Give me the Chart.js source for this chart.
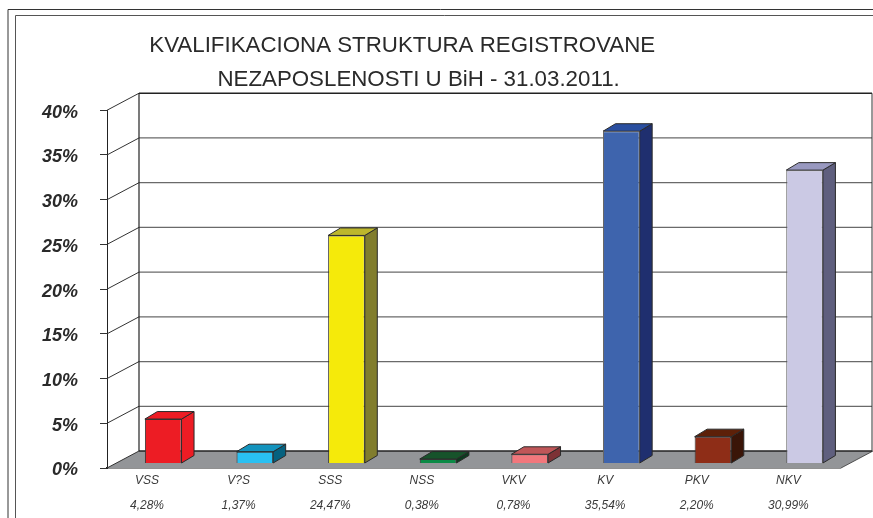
<!DOCTYPE html>
<html><head><meta charset="utf-8">
<style>html,body{margin:0;padding:0;background:#fff}canvas{display:block}</style>
<script src="https://cdn.jsdelivr.net/npm/chart.js@4"></script>
</head><body><canvas id="c" width="873" height="518"></canvas>
<script>
const titleLines = ["KVALIFIKACIONA STRUKTURA REGISTROVANE", "NEZAPOSLENOSTI U BiH - 31.03.2011."];
const categories = ["VSS", "V?S", "SSS", "NSS", "VKV", "KV", "PKV", "NKV"];
const printedShares = ["4,28%", "1,37%", "24,47%", "0,38%", "0,78%", "35,54%", "2,20%", "30,99%"];
const barHeights = [4.97, 1.32, 25.5, 0.5, 1.03, 37.15, 3.0, 32.8];
const frontColors = ["#ed1c24", "#29c0f2", "#f5ea0a", "#0b8a45", "#f2777c", "#3e64ad", "#8e2d17", "#cbc9e4"];
const topColors   = ["#ed1c24", "#1393bd", "#bdb72c", "#17532b", "#c05658", "#2a4fa0", "#5d2008", "#9999c0"];
const sideColors  = ["#ed1c24", "#05617f", "#817d2d", "#0c3a1e", "#7d3236", "#1f2f6f", "#3a1508", "#5f5f7e"];
const edgeColors  = ["#333", "#333", "#333", "#333", "#444", "#666", "#333", "#555"];
const yMax = 40, yStep = 5;

const WALL = {dx: 32, dy: -17}, BAR = {dx: 10.4, dy: -4.5}, DEPTH = {dx: 12.5, dy: -7.5};

function line(ctx, x1, y1, x2, y2, color, w) {
  ctx.strokeStyle = color; ctx.lineWidth = w;
  ctx.beginPath(); ctx.moveTo(x1, y1); ctx.lineTo(x2, y2); ctx.stroke();
}
function poly(ctx, pts, fill, edge) {
  ctx.beginPath(); pts.forEach((p, i) => i ? ctx.lineTo(p[0], p[1]) : ctx.moveTo(p[0], p[1]));
  ctx.closePath(); ctx.fillStyle = fill; ctx.fill();
  if (edge) { ctx.strokeStyle = edge; ctx.lineWidth = 1; ctx.stroke(); }
}

const scene = {
  id: "scene",
  beforeDraw(chart) {
    const {ctx, width, height} = chart;
    ctx.save();
    ctx.fillStyle = "#fff"; ctx.fillRect(0, 0, width, height);
    line(ctx, 8, 9.5, width, 9.5, "#333", 1);
    line(ctx, 8, 9.5, 8, height, "#333", 1);
    line(ctx, 15.5, 15.5, width, 15.5, "#555", 1);
    line(ctx, 15.5, 15.5, 15.5, height, "#555", 1);
    ctx.restore();
  },
  beforeDatasetsDraw(chart) {
    const {ctx, chartArea: a, scales: {y}} = chart;
    const bx = a.left + WALL.dx, rx = a.right + WALL.dx, fy = y.getPixelForValue(0);
    ctx.save();
    poly(ctx, [[a.left, fy], [bx, fy + WALL.dy], [rx + 1, fy + WALL.dy], [a.right + 1, fy]], "#939598");
    line(ctx, a.right + 1, fy, rx + 1, fy + WALL.dy, "#333", 0.8);
    for (let v = 0; v <= yMax; v += yStep) {
      const p = y.getPixelForValue(v);
      const edge = v === 0 || v === yMax;
      line(ctx, a.left, p, bx, p + WALL.dy, "#333", 1);
      line(ctx, bx, p + WALL.dy, rx, p + WALL.dy, edge ? "#222" : "#6a6a6a", edge ? 1.6 : 1.2);
    }
    line(ctx, bx, y.getPixelForValue(yMax) + WALL.dy, bx, fy + WALL.dy, "#222", 1.2);
    line(ctx, rx, y.getPixelForValue(yMax) + WALL.dy, rx, fy + WALL.dy, "#333", 1);
    ctx.restore();
    ctx.save();
    ctx.translate(BAR.dx, BAR.dy);
    const bars = chart.getDatasetMeta(0).data;
    bars.forEach((b, i) => {
      const l = b.x - b.width / 2, r = b.x + b.width / 2, t = b.y, base = b.base;
      const e = "#2a2a2a";
      poly(ctx, [[r, t], [r + DEPTH.dx, t + DEPTH.dy], [r + DEPTH.dx, base + DEPTH.dy], [r, base]], sideColors[i], e);
      poly(ctx, [[l, t], [l + DEPTH.dx, t + DEPTH.dy], [r + DEPTH.dx, t + DEPTH.dy], [r, t]], topColors[i], e);
    });
  },
  afterDatasetsDraw(chart) { chart.ctx.restore(); }
};

new Chart(document.getElementById("c"), {
  type: "bar",
  data: {
    labels: categories.map((c, i) => [c, printedShares[i]]),
    datasets: [{
      data: barHeights, backgroundColor: frontColors, borderColor: edgeColors, borderWidth: 1,
      categoryPercentage: 1, barPercentage: 0.4, clip: false
    }]
  },
  plugins: [scene],
  options: {
    responsive: false, animation: false,
    layout: {padding: {left: 13, right: 33, top: 0, bottom: 0}},
    plugins: {
      legend: {display: false}, tooltip: {enabled: false},
      title: {
        display: true, align: "start", color: "#2a2a2a",
        text: [" ".repeat(22) + titleLines[0], " ".repeat(33) + titleLines[1]],
        font: {family: "'Liberation Sans', Arial, sans-serif", size: 22.3, weight: "normal", lineHeight: 1.53},
        padding: {top: 28.5, bottom: 13.5}
      }
    },
    scales: {
      x: {
        grid: {display: false},
        border: {display: true, color: "#222", width: 1.5},
        afterFit(s) { s.height = 50; },
        ticks: {
          color: "#3a3a3a", padding: -8, labelOffset: -5.8, maxRotation: 0, autoSkip: false,
          font: {family: "'Liberation Sans', Arial, sans-serif", size: 12, style: "italic", lineHeight: 2.08}
        }
      },
      y: {
        min: 0, max: yMax,
        afterFit(s) { s.width = 107 - 13; },
        grid: {drawOnChartArea: false, drawTicks: true, tickLength: 7, color: "#333"},
        border: {display: true, color: "#222", width: 1},
        ticks: {
          stepSize: yStep, padding: 22, color: "#2a2a2a", labelOffset: 2.5,
          callback: v => v + "%",
          font: {family: "'Liberation Sans', Arial, sans-serif", size: 18, style: "italic", weight: "bold"}
        }
      }
    }
  }
});
</script></body></html>
